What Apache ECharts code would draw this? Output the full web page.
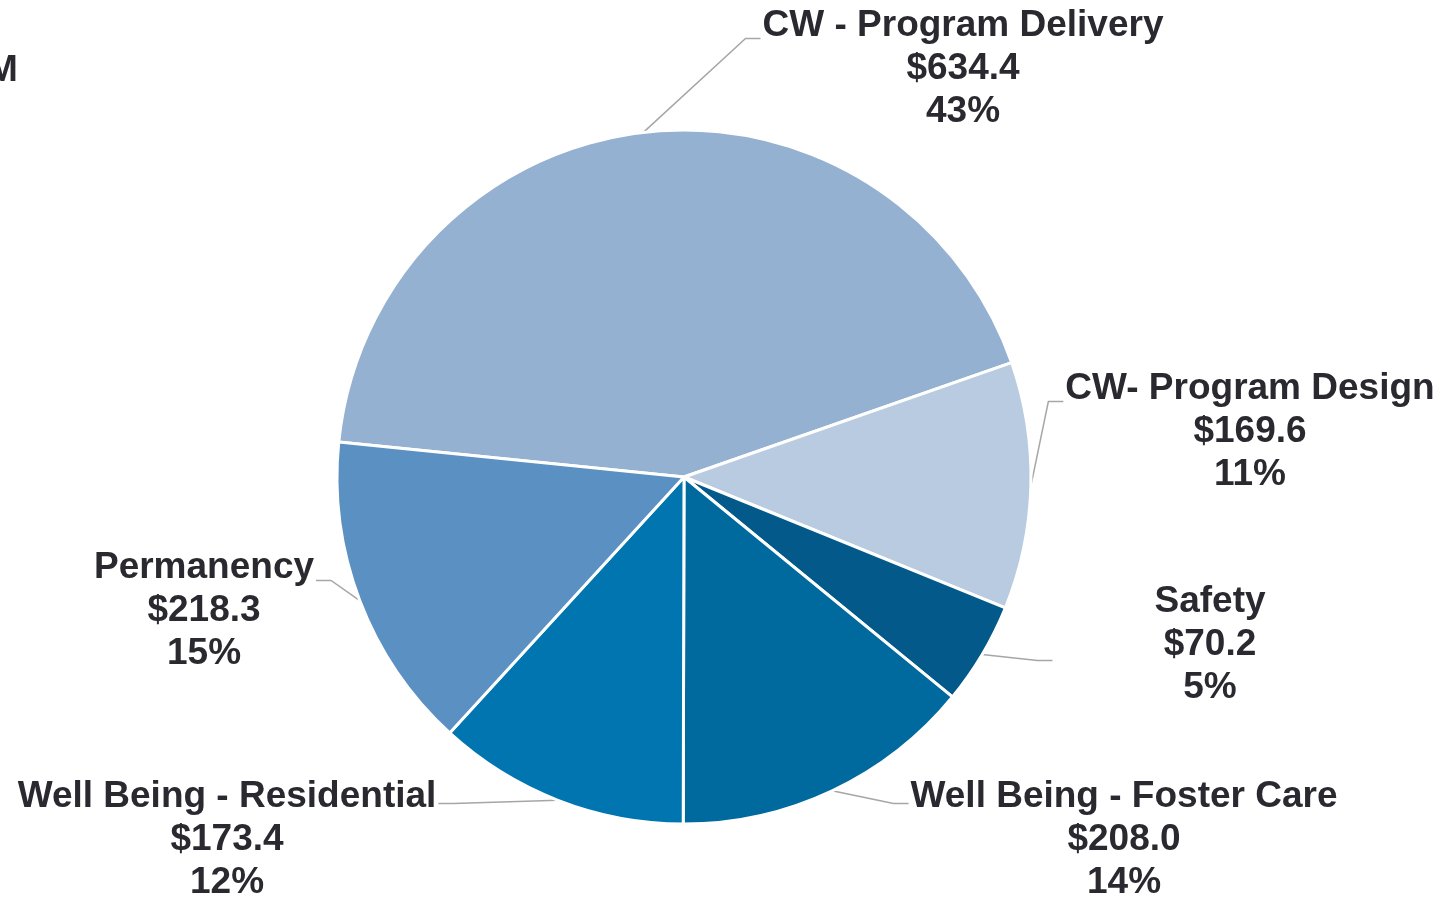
<!DOCTYPE html>
<html>
<head>
<meta charset="utf-8">
<script src="https://cdn.jsdelivr.net/npm/echarts@6/dist/echarts.min.js"></script>
<style>
  html, body { margin: 0; padding: 0; background: #fff; }
  #chart { width: 1445px; height: 898px; }
</style>
</head>
<body>
<div id="chart"></div>
<script>
// budget by program area ($M), clockwise from the left
const categories = ['CW - Program Delivery', 'CW- Program Design', 'Safety', 'Well Being - Foster Care', 'Well Being - Residential', 'Permanency']
const values = [634.4, 169.6, 70.2, 208.0, 173.4, 218.3]
const colors = ['#95b1d1', '#b9cbe0', '#02598a', '#00699e', '#0075b0', '#5a90c2']

// where each label block sits (center of the 3 lines)
const labelSpots = [[963, 69], [1250, 432], [1210, 645], [1124, 840], [227, 840], [204, 611]]
// leader line: how far below block top it meets, and gap left before text
const lineDy = [34, 34, 80, 28, 28, 34]
const lineGap = [2, 2, 102, 2, 2, 2]
const LINE_H = 43

const chart = echarts.init(document.getElementById('chart'))

chart.setOption({
  animation: false,
  graphic: [{
    type: 'text',
    left: -13,
    top: 52,
    style: { text: 'M', font: 'bold 37px "Liberation Sans", Arial', fill: '#2a2930' }
  }],
  series: [{
    type: 'pie',
    center: [684, 477],
    radius: 347,
    startAngle: 174.2,
    clockwise: true,
    percentPrecision: 0,
    data: categories.map((name, i) => ({ name, value: values[i], itemStyle: { color: colors[i] } })),
    itemStyle: { borderColor: '#fff', borderWidth: 3 },
    label: {
      show: true,
      position: 'outside',
      overflow: 'none',
      formatter: p => `${p.name}\n$${p.value.toFixed(1)}\n${Math.round(p.percent)}%`,
      fontFamily: '"Liberation Sans", Arial',
      fontWeight: 'bold',
      fontSize: 37,
      lineHeight: LINE_H,
      color: '#2a2930',
      align: 'center'
    },
    labelLine: {
      show: true,
      length: 20,
      length2: 15,
      lineStyle: { color: '#a6a6a6', width: 1.5 }
    },
    labelLayout: params => {
      const i = params.dataIndex
      const s = labelSpots[i]
      const w = params.labelRect.width
      const h = params.labelRect.height
      const onRight = s[0] > 684
      const edgeX = onRight ? s[0] - w / 2 - lineGap[i] : s[0] + w / 2 + lineGap[i]
      const y = s[1] - h / 2 + lineDy[i]
      const start = params.labelLinePoints ? params.labelLinePoints[0] : [edgeX, y]
      const midX = onRight ? edgeX - 15 : edgeX + 15
      return {
        x: s[0], y: s[1], align: 'center', verticalAlign: 'middle',
        labelLinePoints: [start, [midX, y], [edgeX, y]]
      }
    }
  }]
})
</script>
</body>
</html>
